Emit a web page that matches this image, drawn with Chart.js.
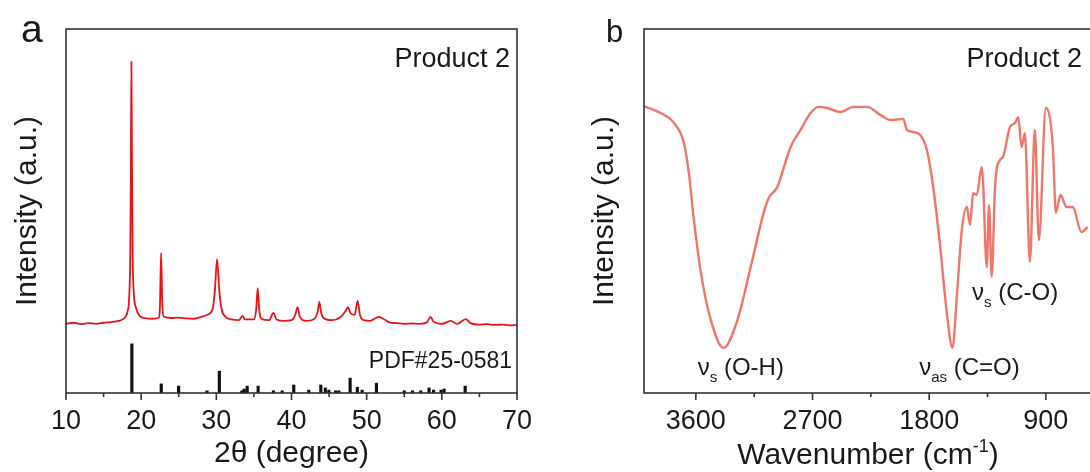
<!DOCTYPE html>
<html lang="en">
<head>
  <meta charset="UTF-8" />
  <title>Product 2 - XRD and FTIR</title>
  <script src="https://cdn.jsdelivr.net/npm/chart.js@4"></script>
  <style>
    html, body {
      margin: 0;
      padding: 0;
      background: #fff;
    }
    body {
      width: 1090px;
      height: 472px;
      overflow: hidden;
      position: relative;
    }
    #xrdChart { position: absolute; left: 0; top: 0; }
    #irChart { position: absolute; left: 545px; top: 0; }
  </style>
</head>
<body>

  <canvas id="xrdChart" width="545" height="472"></canvas>
  <canvas id="irChart" width="550" height="472"></canvas>

  <script>
    // (a) XRD pattern
    const xrdAngle = [10.0, 11.0, 12.0, 13.0, 14.0, 15.0, 16.0, 17.0, 17.6, 18.0, 18.2, 18.4, 18.55, 18.63, 18.7, 18.78, 18.87, 19.0, 19.3, 19.8,
      20.5, 21.5, 22.3, 22.5, 22.65, 22.8, 23.0, 24.0, 25.0, 26.0, 27.0, 28.0, 28.8, 29.5, 29.8, 30.1, 30.4, 30.7, 31.2,
      32.0, 33.0, 33.5, 33.8, 35.0, 35.3, 35.5, 35.7, 36.0, 37.0, 37.6, 38.0, 39.0, 40.0, 40.5, 40.8, 41.1, 42.0,
      43.0, 43.5, 43.7, 43.95, 44.5, 45.5, 46.5, 47.2, 47.5, 47.9, 48.4, 48.8, 49.1, 49.6, 50.5, 51.2, 51.6, 52.2,
      53.0, 54.0, 55.0, 56.0, 57.0, 58.0, 58.5, 58.9, 60.0, 61.2, 62.0, 63.2, 63.8, 65.0, 66.0, 67.0, 68.0, 69.0, 70.0];
    const xrdIntensity = [19.0, 19.3, 18.9, 19.2, 19.0, 19.3, 19.5, 19.8, 20.3, 21.2, 22.5, 26.0, 38.0, 60.0, 91.0, 62.0, 38.0, 28.0, 23.5, 21.2,
      20.6, 20.4, 20.6, 24.0, 38.5, 25.0, 21.0, 20.6, 20.7, 20.5, 20.4, 20.9, 21.5, 23.0, 28.0, 36.8, 28.0, 23.0, 21.0,
      20.2, 20.0, 21.2, 20.2, 20.2, 23.0, 28.8, 23.0, 20.4, 20.0, 22.0, 20.2, 19.8, 20.0, 21.5, 23.6, 21.0, 19.8,
      20.3, 22.5, 25.0, 22.0, 20.3, 20.0, 20.8, 22.5, 23.6, 21.8, 21.5, 25.3, 21.5, 20.0, 19.8, 20.6, 20.9, 20.4,
      19.4, 19.2, 19.0, 19.1, 19.0, 19.4, 20.9, 19.6, 19.0, 19.8, 19.0, 20.3, 19.2, 18.8, 18.9, 18.7, 18.8, 18.6, 18.7];

    // reference card PDF#25-0581 (stick heights)
    const pdfAngle = [18.76, 22.67, 24.98, 28.76, 30.4, 33.4, 33.7, 34.1, 35.56, 37.6, 38.76, 40.3, 42.3, 43.9, 44.5,
      44.97, 45.87, 46.3, 47.8, 48.76, 49.4, 51.3, 55.0, 56.1, 57.2, 58.3, 58.9, 59.9, 60.3, 63.1];
    const pdfIntensity = [13.5, 2.5, 1.9, 0.6, 6.0, 0.6, 1.1, 1.9, 1.9, 0.6, 0.6, 2.2, 0.8, 2.2, 1.4,
      0.8, 0.6, 0.6, 4.1, 1.6, 0.8, 2.7, 0.6, 0.6, 0.6, 1.4, 0.8, 0.8, 1.1, 1.9];

    const xrdTicks = [10, 15, 20, 25, 30, 35, 40, 45, 50, 55, 60, 65, 70];
    const xrdTickLabels = [10, 20, 30, 40, 50, 60, 70];

    // (b) FTIR spectrum
    const irWave = [4000, 3895, 3769, 3692, 3654, 3615, 3561, 3485, 3387, 3279, 3177, 3077, 3038, 2971, 2923, 2869, 2792,
      2715, 2654, 2587, 2485, 2385, 2279, 2177, 2100, 2000, 1972, 1923, 1869, 1818, 1769, 1715, 1664, 1620, 1587,
      1548, 1510, 1485, 1461, 1433, 1395, 1385, 1356, 1338, 1318, 1292, 1254, 1231, 1177, 1138, 1113, 1087, 1062,
      1023, 985, 954, 900, 846, 823, 787, 741, 692, 626, 577];
    const irIntensity = [78.8, 77.3, 74.2, 68.7, 60.4, 47.5, 33.0, 20.1, 12.4, 20.1, 34.6, 49.5, 53.6, 56.6, 61.8, 67.6, 72.3,
      76.9, 78.6, 78.3, 77.2, 78.6, 78.6, 76.4, 75.0, 75.3, 72.3, 71.7, 70.9, 66.8, 56.6, 40.1, 22.0, 12.4, 26.4,
      44.8, 51.1, 46.2, 54.9, 54.4, 62.1, 58.5, 34.6, 51.6, 31.9, 56.6, 64.0, 64.8, 73.1, 74.2, 75.8, 67.6, 71.4,
      36.0, 72.3, 42.0, 78.3, 67.6, 49.5, 54.4, 51.1, 51.1, 44.2, 45.6];

    const irTicks = [3600, 3150, 2700, 2250, 1800, 1350, 900];
    const irTickLabels = [3600, 2700, 1800, 900];

    const FONT = "Arial, 'Liberation Sans', sans-serif";
    const INK = '#1a1a1a';

    // draws a run of text pieces [text, size, dy] (for sub/superscripts)
    function drawParts(ctx, parts, x, y, align) {
      let w = 0;
      parts.forEach(p => { ctx.font = p[1] + 'px ' + FONT; w += ctx.measureText(p[0]).width; });
      let cx = align === 'center' ? x - w / 2 : align === 'right' ? x - w : x;
      ctx.textAlign = 'left';
      ctx.textBaseline = 'alphabetic';
      ctx.fillStyle = INK;
      parts.forEach(p => {
        ctx.font = p[1] + 'px ' + FONT;
        ctx.fillText(p[0], cx, y + (p[2] || 0));
        cx += ctx.measureText(p[0]).width;
      });
    }

    // frame box, outward tick marks (long for labelled ticks) and extra texts
    function framePlugin(extra) {
      return {
        id: 'frame',
        afterDraw(chart) {
          const { ctx, chartArea: { left, top, right, bottom }, scales: { x } } = chart;
          ctx.save();
          ctx.strokeStyle = '#333';
          ctx.lineWidth = 1.6;
          ctx.strokeRect(left, top, right - left, bottom - top);
          x.ticks.forEach(t => {
            const px = x.getPixelForValue(t.value);
            ctx.beginPath();
            ctx.moveTo(px, bottom);
            ctx.lineTo(px, bottom + (t.label ? 7 : 4));
            ctx.stroke();
          });
          extra(chart, ctx);
          ctx.restore();
        }
      };
    }

    function toPoints(xs, ys) {
      return xs.map((v, i) => ({ x: v, y: ys[i] }));
    }

    // ---- panel a ----
    new Chart(document.getElementById('xrdChart'), {
      type: 'line',
      data: {
        datasets: [
          {
            label: 'Product 2',
            data: toPoints(xrdAngle, xrdIntensity),
            borderColor: '#e8141c',
            borderWidth: 1.8,
            pointRadius: 0,
            cubicInterpolationMode: 'monotone',
            fill: false
          },
          {
            type: 'bar',
            label: 'PDF#25-0581',
            data: toPoints(pdfAngle, pdfIntensity),
            backgroundColor: '#111',
            barThickness: 2.5,
            grouped: false
          }
        ]
      },
      options: {
        responsive: false,
        animation: false,
        layout: { padding: { top: 29, right: 28, left: 0, bottom: 0 } },
        plugins: { legend: { display: false }, tooltip: { enabled: false } },
        scales: {
          x: {
            type: 'linear', min: 10, max: 70, offset: false,
            grid: { display: false, drawTicks: false },
            border: { display: false },
            afterBuildTicks: s => { s.ticks = xrdTicks.map(v => ({ value: v })); },
            afterFit: s => { s.height = 79; },
            ticks: {
              padding: 12, color: INK, maxRotation: 0, autoSkip: false,
              font: { size: 27, family: FONT },
              callback: v => xrdTickLabels.includes(v) ? String(v) : ''
            },
            title: { display: true, text: '2θ (degree)', color: INK, font: { size: 30, family: FONT }, padding: { top: 0, bottom: 0 } }
          },
          y: {
            min: 0, max: 100,
            grid: { display: false, drawTicks: false },
            border: { display: false },
            ticks: { display: false },
            afterFit: s => { s.width = 66; },
            title: { display: true, text: 'Intensity (a.u.)', color: INK, font: { size: 30, family: FONT }, padding: { top: 10, bottom: 0 } }
          }
        }
      },
      plugins: [framePlugin((chart, ctx) => {
        const r = chart.chartArea.right;
        drawParts(ctx, [['a', 39]], 21, 42, 'left');
        drawParts(ctx, [['Product 2', 27]], r - 7, 67, 'right');
        drawParts(ctx, [['PDF#25-0581', 23]], r - 5, 368, 'right');
      })]
    });

    // ---- panel b ----
    new Chart(document.getElementById('irChart'), {
      type: 'line',
      data: {
        datasets: [{
          label: 'Product 2',
          data: toPoints(irWave, irIntensity),
          borderColor: '#f07668',
          borderWidth: 2.4,
          pointRadius: 0,
          cubicInterpolationMode: 'monotone',
          fill: false
        }]
      },
      options: {
        responsive: false,
        animation: false,
        layout: { padding: { top: 29, right: 3, left: 0, bottom: 0 } },
        plugins: { legend: { display: false }, tooltip: { enabled: false } },
        scales: {
          x: {
            type: 'linear', min: 544, max: 4000, reverse: true,
            grid: { display: false, drawTicks: false },
            border: { display: false },
            afterBuildTicks: s => { s.ticks = irTicks.map(v => ({ value: v })); },
            afterFit: s => { s.height = 79; },
            ticks: {
              padding: 12, color: INK, maxRotation: 0, autoSkip: false,
              font: { size: 27, family: FONT },
              callback: v => irTickLabels.includes(v) ? String(v) : ''
            }
          },
          y: {
            min: 0, max: 100,
            grid: { display: false, drawTicks: false },
            border: { display: false },
            ticks: { display: false },
            afterFit: s => { s.width = 99; },
            title: { display: true, text: 'Intensity (a.u.)', color: INK, font: { size: 30, family: FONT }, padding: { top: 42, bottom: 0 } }
          }
        }
      },
      plugins: [framePlugin((chart, ctx) => {
        const { x, y } = chart.scales;
        const { left, right } = chart.chartArea;
        drawParts(ctx, [['b', 31]], 61, 42, 'left');
        drawParts(ctx, [['Product 2', 27]], right - 10, 67, 'right');
        drawParts(ctx, [['ν', 24], ['s', 15, 7], [' (O-H)', 24]], x.getPixelForValue(3585), y.getPixelForValue(5), 'left');
        drawParts(ctx, [['ν', 24], ['as', 15, 7], [' (C=O)', 24]], x.getPixelForValue(1877), y.getPixelForValue(5), 'left');
        drawParts(ctx, [['ν', 24], ['s', 15, 7], [' (C-O)', 24]], x.getPixelForValue(1469), y.getPixelForValue(25.5), 'left');
        drawParts(ctx, [['Wavenumber (cm', 30], ['-1', 18, -12], [')', 30]], (left + right) / 2, 464, 'center');
      })]
    });
  </script>

</body>
</html>
